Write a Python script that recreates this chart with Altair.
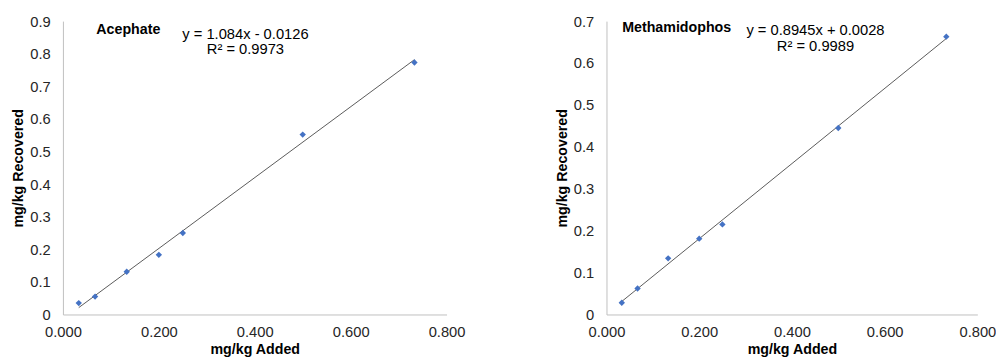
import altair as alt
import pandas as pd

added = [0.033, 0.067, 0.133, 0.200, 0.250, 0.500, 0.733]
acephate = [0.035, 0.055, 0.131, 0.183, 0.250, 0.552, 0.773]
methamidophos = [0.028, 0.062, 0.134, 0.181, 0.215, 0.445, 0.663]

x_ticks = [0.0, 0.2, 0.4, 0.6, 0.8]
y_ticks_left = [0, 0.1, 0.2, 0.3, 0.4, 0.5, 0.6, 0.7, 0.8, 0.9]
y_ticks_right = [0, 0.1, 0.2, 0.3, 0.4, 0.5, 0.6, 0.7]

FONT = "Liberation Sans"
BLUE = "#4472C4"


def panel(yvals, name, eq, r2, ymax, yticks, width, pos):
    df = pd.DataFrame({"x": added, "y": yvals})
    base = alt.Chart(df)
    xenc = alt.X("x:Q", scale=alt.Scale(domain=[0, 0.8], nice=False),
                 axis=alt.Axis(values=x_ticks, format=".3f", title="mg/kg Added"))
    yenc = alt.Y("y:Q", scale=alt.Scale(domain=[0, ymax], nice=False),
                 axis=alt.Axis(values=yticks, format="~g", title="mg/kg Recovered"))
    line = base.transform_regression("x", "y").mark_line(
        color="#595959", strokeWidth=1).encode(x=xenc, y=yenc)
    pts = base.mark_point(shape="diamond", filled=True, size=42,
                          color=BLUE, opacity=1).encode(x=xenc, y=yenc)
    lbl = alt.Chart(pd.DataFrame({"t": [name]})).mark_text(
        font=FONT, fontSize=14.5, fontWeight="bold", align="left",
        baseline="middle", color="black").encode(
        text="t:N", x=alt.value(pos[0]), y=alt.value(pos[1]))
    eqt = alt.Chart(pd.DataFrame({"t": [eq]})).mark_text(
        font=FONT, fontSize=15, align="center", baseline="middle",
        color="black").encode(text="t:N", x=alt.value(pos[2]), y=alt.value(pos[3]))
    r2t = alt.Chart(pd.DataFrame({"t": [r2]})).mark_text(
        font=FONT, fontSize=15, align="center", baseline="middle",
        color="black").encode(text="t:N", x=alt.value(pos[2]), y=alt.value(pos[3] + 16))
    return alt.layer(line, pts, lbl, eqt, r2t).properties(width=width, height=299)


left = panel(acephate, "Acephate", "y = 1.084x - 0.0126", "R² = 0.9973",
             0.9, y_ticks_left, 391, (34, 9, 186, 13))
right = panel(methamidophos, "Methamidophos", "y = 0.8945x + 0.0028", "R² = 0.9989",
              0.7, y_ticks_right, 378, (16, 7, 213, 9))

chart = alt.hconcat(left, right, spacing=91).properties(
    padding={"left": 3, "top": 3, "right": 0, "bottom": 0}
).configure_view(stroke=None).configure_axis(
    grid=False, ticks=False, domainColor="#bfbfbf", domainWidth=1,
    labelFont=FONT, labelFontSize=15, labelColor="#262626",
    titleFont=FONT, titleFontSize=14.5, titleFontWeight="bold", titleColor="black",
    labelFlush=False,
).configure_axisY(labelPadding=13, titlePadding=4).configure_axisX(
    labelPadding=10, titlePadding=4)

chart.save("out.html", embed_options={"renderer": "svg", "actions": False})
